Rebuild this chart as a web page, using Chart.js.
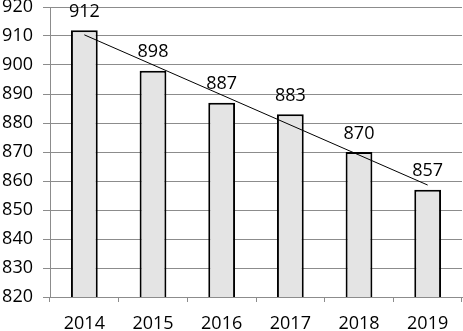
<!DOCTYPE html>
<html>
<head>
<meta charset="utf-8">
<script src="https://cdn.jsdelivr.net/npm/chart.js@4/dist/chart.umd.min.js"></script>
<style>
html,body{margin:0;padding:0;background:#fff;}
#wrap{width:463px;height:331px;}
</style>
</head>
<body>
<div id="wrap"><canvas id="c" width="463" height="331"></canvas></div>
<script>
const categories = ['2014', '2015', '2016', '2017', '2018', '2019'];
const values = [912, 898, 887, 883, 870, 857];
const trendValues = [910.4, null, null, null, null, 858.6];
const yTicks = [820, 830, 840, 850, 860, 870, 880, 890, 900, 910, 920];

const FONT = '"Open Sans", sans-serif';

const labelPlugin = {
  id: 'barLabels',
  afterDatasetsDraw(chart) {
    const ctx = chart.ctx;
    const meta = chart.getDatasetMeta(1);
    ctx.save();
    ctx.font = '18px ' + FONT;
    ctx.fillStyle = '#000';
    ctx.textAlign = 'center';
    ctx.textBaseline = 'alphabetic';
    meta.data.forEach((bar, i) => {
      ctx.fillText(String(values[i]), bar.x, bar.y - 13.5);
    });
    ctx.restore();
  }
};

new Chart(document.getElementById('c'), {
  data: {
    labels: categories,
    datasets: [
      {
        type: 'line',
        data: trendValues,
        borderColor: '#000',
        borderWidth: 1,
        pointRadius: 0,
        fill: false,
        spanGaps: true,
        tension: 0,
        order: 0
      },
      {
        type: 'bar',
        data: values,
        backgroundColor: '#e4e4e4',
        borderColor: '#000',
        borderWidth: 2,
        borderSkipped: 'bottom',
        categoryPercentage: 1,
        barPercentage: 0.39,
        order: 1
      }
    ]
  },
  options: {
    responsive: false,
    animation: false,
    devicePixelRatio: 1,
    layout: { padding: { top: 7, right: 1, left: 0, bottom: 0 } },
    plugins: { legend: { display: false }, tooltip: { enabled: false } },
    scales: {
      x: {
        type: 'category',
        offset: true,
        grid: { offset: true, drawOnChartArea: false, drawTicks: true, tickLength: 5, color: '#8c8c8c', lineWidth: 1 },
        border: { display: true, color: '#8c8c8c', width: 1 },
        ticks: { color: '#000', font: { family: FONT, size: 18 }, padding: 11, maxRotation: 0, autoSkip: false },
        afterFit(scale) { scale.height = 34; scale.paddingLeft = 0; scale.paddingRight = 0; }
      },
      y: {
        min: 820,
        max: 920,
        afterBuildTicks(scale) { scale.ticks = yTicks.map(v => ({ value: v })); },
        grid: { color: '#8c8c8c', lineWidth: 1, drawTicks: true, tickLength: 7 },
        border: { display: true, color: '#8c8c8c', width: 1 },
        ticks: { color: '#000', font: { family: FONT, size: 18 }, padding: 10 },
        afterFit(scale) { scale.width = 50; scale.paddingTop = 0; scale.paddingBottom = 0; }
      }
    }
  },
  plugins: [labelPlugin]
});
</script>
</body>
</html>
